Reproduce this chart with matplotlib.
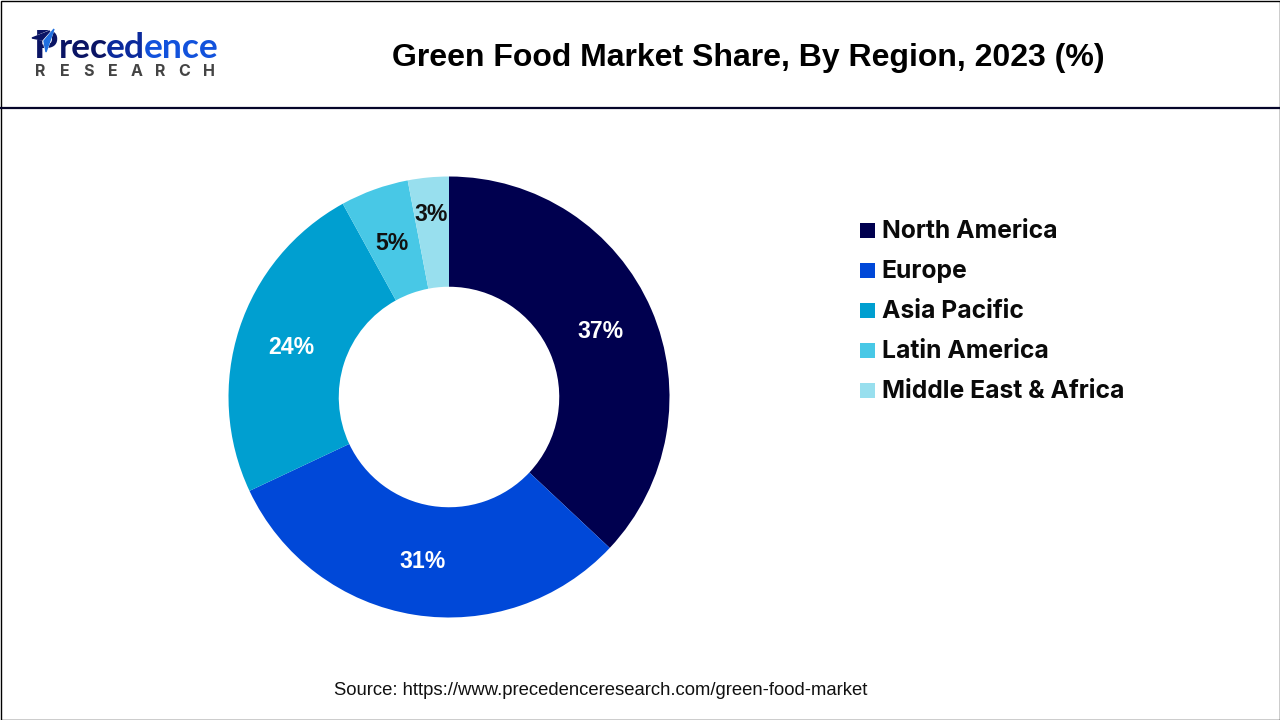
import matplotlib
matplotlib.use("Agg")
import matplotlib.pyplot as plt
from matplotlib.patches import Rectangle, Polygon

regions = ["North America", "Europe", "Asia Pacific", "Latin America", "Middle East & Africa"]
shares = [37, 31, 24, 5, 3]
colors = ["#00004f", "#0048d8", "#009fd0", "#48c8e6", "#98dfee"]
label_colors = ["white", "white", "white", "#111111", "#111111"]

W, H = 1280, 720
fig = plt.figure(figsize=(12.8, 7.2), dpi=100, facecolor="white")

# full figure overlay in pixel coords, y goes down
bg = fig.add_axes([0, 0, 1, 1])
bg.set_xlim(0, W)
bg.set_ylim(H, 0)
bg.axis("off")

bg.add_patch(Rectangle((0.5, 0.5), W - 1, H - 1, fill=False, ec="black", lw=1.0))
bg.plot([0, W], [107.5, 107.5], color="#05052a", lw=1.6)

bg.text(748, 58, "Green Food Market Share, By Region, 2023 (%)", ha="center", va="center",
        fontsize=23, fontweight="bold", family="Liberation Sans", color="black")
bg.text(601, 690.5, "Source: https://www.precedenceresearch.com/green-food-market", ha="center", va="center",
        fontsize=13.3, family="Liberation Sans", color="#111111")

# logo
bg.text(34, 58, "P", ha="left", va="baseline", fontsize=28, fontweight="bold", family="Lato", color="#0a1464")
bg.add_patch(Polygon([[32, 38], [54, 29], [46, 53], [43, 40]], color="white", zorder=3))
bg.add_patch(Polygon([[32, 38], [50, 31], [42, 40]], color="#0a1464", zorder=4))
bg.add_patch(Polygon([[54, 29], [46, 52], [44, 41]], color="#1f6fe0", zorder=4))
logo_parts = ["rec", "ed", "ence"]
logo_colors = ["#0a1464", "#0b2a9c", "#1252dc"]
logo_x = [59, 106, 144]
for part, col, x in zip(logo_parts, logo_colors, logo_x):
    bg.text(x, 58, part, ha="left", va="baseline", fontsize=25.5, fontweight="bold", family="Lato", color=col)
for i, ch in enumerate("RESEARCH"):
    bg.text(40.5 + i * 24, 71, ch, ha="center", va="center", fontsize=11.5, fontweight="bold",
            family="Inter", color="#444444")

# donut
cx, cy, r = 449, 397, 220.5
ax = fig.add_axes([(cx - r) / W, 1 - (cy + r) / H, 2 * r / W, 2 * r / H])
wedges, _ = ax.pie(shares, colors=colors, startangle=90, counterclock=False, radius=1,
                   wedgeprops={"width": 0.5, "linewidth": 0})
ax.set_xlim(-1, 1)
ax.set_ylim(-1, 1)

# value labels, offset from ring middle as in the picture
label_pos = [(600, 332), (423, 561.5), (291, 347.5), (392, 243.5), (431, 214.5)]
for val, pos, col in zip(shares, label_pos, label_colors):
    bg.text(pos[0], pos[1], f"{val}%", ha="center", va="center", fontsize=16.6, fontweight="bold",
            family="Liberation Sans", color=col, zorder=10)
bg.set_zorder(5)
bg.patch.set_alpha(0)

# legend
legend_y = [230, 270, 310, 350, 390]
for name, col, y in zip(regions, colors, legend_y):
    bg.add_patch(Rectangle((860, y - 7.5), 15, 15, color=col, lw=0))
    bg.text(881.5, y + 1.5, name, ha="left", va="center", fontsize=17.8, fontweight="bold",
            family="Inter", color="#0a0a0a")

fig.savefig("out.png", dpi=100)
